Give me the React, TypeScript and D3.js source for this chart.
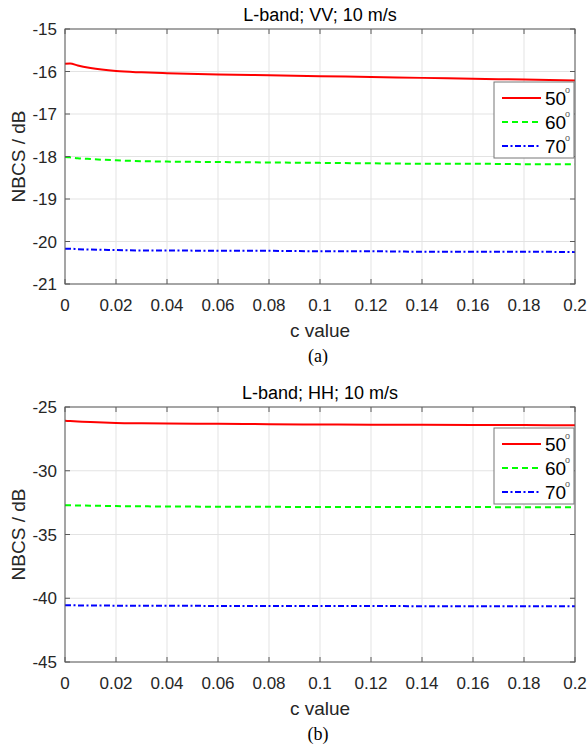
import React from "react";
import * as d3 from "d3";

const cValues = [0, 0.002, 0.005, 0.01, 0.02, 0.03, 0.04, 0.06, 0.08, 0.1, 0.12, 0.14, 0.16, 0.18, 0.2];

const vv50 = [-15.82, -15.81, -15.86, -15.92, -15.99, -16.02, -16.04, -16.07, -16.09, -16.11, -16.13, -16.15, -16.17, -16.19, -16.21];
const vv60 = [-18.01, -18.02, -18.04, -18.06, -18.09, -18.11, -18.12, -18.13, -18.14, -18.15, -18.16, -18.17, -18.17, -18.18, -18.18];
const vv70 = [-20.17, -20.17, -20.18, -20.19, -20.2, -20.21, -20.21, -20.22, -20.22, -20.23, -20.23, -20.24, -20.24, -20.24, -20.25];

const hh50 = [-26.08, -26.1, -26.13, -26.18, -26.25, -26.28, -26.3, -26.32, -26.35, -26.37, -26.39, -26.4, -26.41, -26.42, -26.43];
const hh60 = [-32.7, -32.71, -32.72, -32.74, -32.77, -32.79, -32.8, -32.82, -32.83, -32.84, -32.84, -32.85, -32.85, -32.86, -32.86];
const hh70 = [-40.55, -40.55, -40.56, -40.57, -40.58, -40.59, -40.59, -40.6, -40.6, -40.61, -40.61, -40.62, -40.62, -40.62, -40.63];

const xTicks = [0, 0.02, 0.04, 0.06, 0.08, 0.1, 0.12, 0.14, 0.16, 0.18, 0.2];
const vvTicks = [-21, -20, -19, -18, -17, -16, -15];
const hhTicks = [-45, -40, -35, -30, -25];
const legendLabels = ["50", "60", "70"];

const seriesStyles = [
  { color: "#ff0000", dash: "" },
  { color: "#00ff00", dash: "6,4" },
  { color: "#0000ff", dash: "6,2.5,2,2.5" },
];

const FONT = "Arial, 'Liberation Sans', Helvetica, sans-serif";
const TXT = "#262626";

type PanelProps = {
  top: number;
  title: string;
  yDomain: [number, number];
  yTicks: number[];
  series: number[][];
  legendTop: number;
  caption: string;
};

function Panel({ top, title, yDomain, yTicks, series, legendTop, caption }: PanelProps) {
  const left = 65;
  const right = 575;
  const height = 255;
  const bottom = top + height;
  const x = d3.scaleLinear().domain([0, 0.2]).range([left, right]);
  const y = d3.scaleLinear().domain(yDomain).range([bottom, top]);
  const line = d3
    .line<number>()
    .x((_, i) => x(cValues[i]))
    .y((d) => y(d))
    .curve(d3.curveMonotoneX);

  const lg = { x: 494, w: 80, h: 76 };
  return (
    <g>
      {/* grid */}
      {xTicks.map((t) => (
        <line key={"gx" + t} x1={x(t)} x2={x(t)} y1={top} y2={bottom} stroke="#e3e3e3" strokeWidth={1} />
      ))}
      {yTicks.map((t) => (
        <line key={"gy" + t} x1={left} x2={right} y1={y(t)} y2={y(t)} stroke="#e3e3e3" strokeWidth={1} />
      ))}
      {/* data */}
      {series.map((s, i) => (
        <path
          key={"s" + i}
          d={line(s) || ""}
          fill="none"
          stroke={seriesStyles[i].color}
          strokeWidth={2}
          strokeDasharray={seriesStyles[i].dash}
        />
      ))}
      {/* box & ticks */}
      <rect x={left} y={top} width={right - left} height={height} fill="none" stroke="#5a5a5a" strokeWidth={1} />
      {xTicks.map((t) => (
        <g key={"tx" + t}>
          <line x1={x(t)} x2={x(t)} y1={bottom} y2={bottom - 5} stroke="#5a5a5a" />
          <line x1={x(t)} x2={x(t)} y1={top} y2={top + 5} stroke="#5a5a5a" />
          <text x={x(t)} y={bottom + 27} textAnchor="middle" fontSize={17} fontFamily={FONT} fill={TXT}>
            {String(t)}
          </text>
        </g>
      ))}
      {yTicks.map((t) => (
        <g key={"ty" + t}>
          <line x1={left} x2={left + 5} y1={y(t)} y2={y(t)} stroke="#5a5a5a" />
          <line x1={right} x2={right - 5} y1={y(t)} y2={y(t)} stroke="#5a5a5a" />
          <text x={57} y={y(t)} dy="0.36em" textAnchor="end" fontSize={17} fontFamily={FONT} fill={TXT}>
            {String(t)}
          </text>
        </g>
      ))}
      {/* title */}
      <text x={(left + right) / 2} y={top - 8} textAnchor="middle" fontSize={18} fontFamily={FONT} fill="#000">
        {title}
      </text>
      {/* x label */}
      <text x={(left + right) / 2} y={bottom + 53} textAnchor="middle" fontSize={19} fontFamily={FONT} fill={TXT}>
        c value
      </text>
      {/* y label */}
      <text
        transform={`translate(25,${(top + bottom) / 2}) rotate(-90)`}
        textAnchor="middle"
        fontSize={19}
        fontFamily={FONT}
        fill={TXT}
      >
        NBCS / dB
      </text>
      {/* caption */}
      <text x={318} y={bottom + 78} textAnchor="middle" fontSize={18} fontFamily="'Liberation Serif', 'Times New Roman', serif" fill="#000">
        {caption}
      </text>
      {/* legend */}
      <rect x={lg.x} y={legendTop} width={lg.w} height={lg.h} fill="#fff" stroke="#777" strokeWidth={1} />
      {legendLabels.map((lab, i) => {
        const cy = legendTop + 16 + i * 24;
        return (
          <g key={"lg" + i}>
            <line
              x1={502}
              x2={541}
              y1={cy}
              y2={cy}
              stroke={seriesStyles[i].color}
              strokeWidth={2}
              strokeDasharray={seriesStyles[i].dash}
            />
            <text x={545} y={cy + 7} fontSize={19} fontFamily={FONT} fill="#000">
              {lab}
            </text>
            <text x={565} y={cy - 5} fontSize={9} fontFamily={FONT} fill="#555">
              o
            </text>
          </g>
        );
      })}
    </g>
  );
}

export default function App() {
  return (
    <div style={{ position: "absolute", left: 0, top: 0 }}>
      <svg width={587} height={749} style={{ display: "block", background: "#fff" }}>
        <rect width={587} height={749} fill="#fff" />
        <Panel
          top={29}
          title="L-band; VV; 10 m/s"
          yDomain={[-21, -15]}
          yTicks={vvTicks}
          series={[vv50, vv60, vv70]}
          legendTop={82}
          caption="(a)"
        />
        <Panel
          top={407}
          title="L-band; HH; 10 m/s"
          yDomain={[-45, -25]}
          yTicks={hhTicks}
          series={[hh50, hh60, hh70]}
          legendTop={428}
          caption="(b)"
        />
      </svg>
    </div>
  );
}
